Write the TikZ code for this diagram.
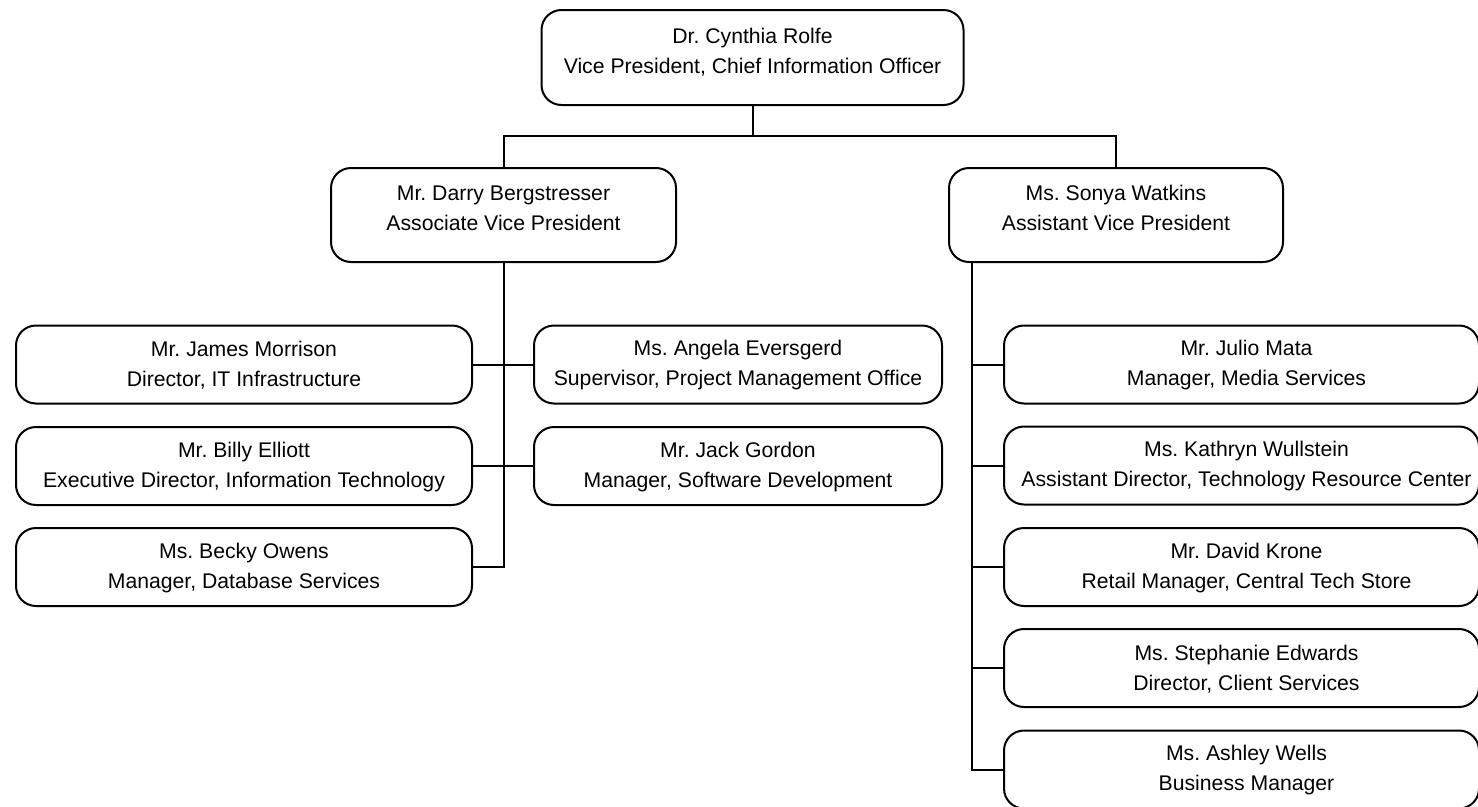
\documentclass[tikz,border=0pt]{standalone}
\usepackage{fontspec}
\setmainfont{Liberation Sans}
\usetikzlibrary{calc}
\frenchspacing
\begin{document}
\begin{tikzpicture}[x=1pt,y=-1pt,
  box/.style={draw=black, line width=2pt, rounded corners=20pt, rectangle, inner sep=0pt, fill=white},
  txt/.style={align=center, inner sep=0pt, font=\fontsize{21.2}{30}\selectfont\frenchspacing, text=black},
  link/.style={draw=black, line width=2pt}]
\useasboundingbox[fill=white] (0,0) rectangle (1478,806);
% boxes
\node[box, minimum width=422pt, minimum height=95pt] (top) at (752.5,57.5) {};
\node[box, minimum width=345pt, minimum height=94pt] (avpL) at (503.5,215) {};
\node[box, minimum width=334pt, minimum height=94pt] (avpR) at (1116,215) {};
\node[box, minimum width=456pt, minimum height=78pt] (morrison) at (244,364.5) {};
\node[box, minimum width=456pt, minimum height=78pt] (elliott) at (244,466) {};
\node[box, minimum width=456pt, minimum height=78pt] (owens) at (244,567) {};
\node[box, minimum width=408pt, minimum height=78pt] (angela) at (738,364.5) {};
\node[box, minimum width=408pt, minimum height=78pt] (gordon) at (738,466) {};
\node[box, minimum width=475pt, minimum height=78pt] (mata) at (1241.5,364.5) {};
\node[box, minimum width=475pt, minimum height=78pt] (wullstein) at (1241.5,465.5) {};
\node[box, minimum width=475pt, minimum height=78pt] (krone) at (1241.5,567) {};
\node[box, minimum width=475pt, minimum height=78pt] (edwards) at (1241.5,668) {};
\node[box, minimum width=475pt, minimum height=78pt] (wells) at (1241.5,769.5) {};
% texts
\node[txt] (topT) at ($(top.center)+(0,-5.5)$) {Dr. Cynthia Rolfe\\Vice President, Chief Information Officer};
\node[txt] (avpLT) at ($(avpL.center)+(0,-7)$) {Mr. Darry Bergstresser\\Associate Vice President};
\node[txt] (avpRT) at ($(avpR.center)+(0,-7)$) {Ms. Sonya Watkins\\Assistant Vice President};
\node[txt] (morrisonT) at ($(morrison.center)+(0,1)$) {Mr. James Morrison\\Director, IT Infrastructure};
\node[txt] (elliottT) at ($(elliott.center)+(0,1)$) {Mr. Billy Elliott\\Executive Director, Information Technology};
\node[txt] (owensT) at ($(owens.center)+(0,1)$) {Ms. Becky Owens\\Manager, Database Services};
\node[txt] (angelaT) at ($(angela.center)+(0,1)$) {Ms. Angela Eversgerd\\Supervisor, Project Management Office};
\node[txt] (gordonT) at ($(gordon.center)+(0,1)$) {Mr. Jack Gordon\\Manager, Software Development};
\node[txt] (mataT) at ($(mata.center)+(5,1)$) {Mr. Julio Mata\\Manager, Media Services};
\node[txt] (wullsteinT) at ($(wullstein.center)+(5,1)$) {Ms. Kathryn Wullstein\\Assistant Director, Technology Resource Center};
\node[txt] (kroneT) at ($(krone.center)+(5,1)$) {Mr. David Krone\\Retail Manager, Central Tech Store};
\node[txt] (edwardsT) at ($(edwards.center)+(5,1)$) {Ms. Stephanie Edwards\\Director, Client Services};
\node[txt] (wellsT) at ($(wells.center)+(5,1)$) {Ms. Ashley Wells\\Business Manager};
% connectors
\coordinate (bus) at (752.5,136);
\coordinate (tR) at (972,262);
\draw[link] (top.south) -- (bus);
\draw[link] (avpL.north) |- (bus) -| (avpR.north);
\draw[link] (avpL.south) |- (owens.east);
\draw[link] (morrison.east) -- (angela.west);
\draw[link] (elliott.east) -- (gordon.west);
\draw[link] (tR) |- (wells.west);
\draw[link] (tR |- mata.west) -- (mata.west);
\draw[link] (tR |- wullstein.west) -- (wullstein.west);
\draw[link] (tR |- krone.west) -- (krone.west);
\draw[link] (tR |- edwards.west) -- (edwards.west);
\end{tikzpicture}
\end{document}
